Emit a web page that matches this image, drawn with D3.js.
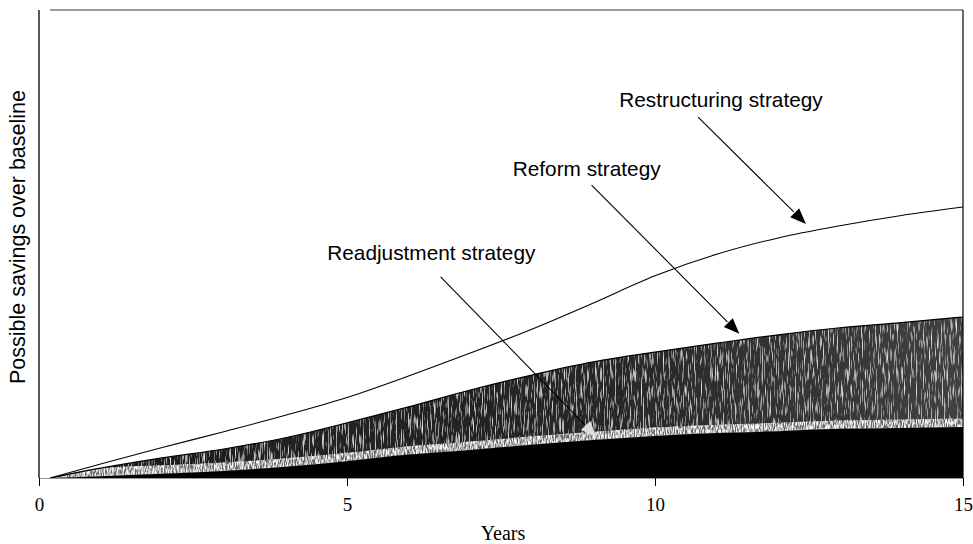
<!DOCTYPE html>
<meta charset="utf-8">
<style>
body { margin: 0; background: #fff; }
.sans { font-family: "Liberation Sans", Arial, sans-serif; }
.serif { font-family: "Liberation Serif", "Times New Roman", serif; }
</style>
<body>
<svg width="973" height="544"></svg>
</body>
<script src="https://cdnjs.cloudflare.com/ajax/libs/d3/7.8.5/d3.min.js"></script>
<script>

// values (savings, arbitrary units 0..100)
var years = [0.18, 1, 2, 3, 4, 5, 6, 7, 8, 9, 10, 11, 12, 13, 14, 15];
var restructuring = [0, 3.0, 6.5, 9.9, 13.4, 17.2, 21.8, 26.7, 31.8, 37.4, 43.2, 47.8, 51.3, 53.9, 56.1, 57.9];
var reform        = [0, 2.1, 4.3, 6.2, 8.6, 11.8, 15.2, 18.8, 22.0, 24.8, 26.9, 28.8, 30.6, 32.1, 33.2, 34.4];
var readjustment  = [0, 0.4, 0.9, 1.5, 2.4, 3.6, 5.0, 6.0, 7.1, 8.1, 9.0, 9.6, 10.0, 10.5, 10.7, 10.9];
var xTicks = [0, 5, 10, 15];

// labels with their leader arrows, in data units
var labels = [
  {text: "Restructuring strategy", at: [9.42, 79.3], from: [10.7, 77.1], to: [12.45, 54.3], head: "#000"},
  {text: "Reform strategy",        at: [7.69, 64.5], from: [8.97, 62.6], to: [11.37, 30.8], head: "#000"},
  {text: "Readjustment strategy",  at: [4.68, 46.6], from: [6.52, 43.0], to: [9.05, 8.8], head: "#ddd"}
];

var svg = d3.select("svg");
var x = d3.scaleLinear().domain([0, 15]).range([39, 963]);
var y = d3.scaleLinear().domain([0, 100]).range([478, 10]);

var rows = years.map(function(yr, i) {
  return {yr: yr, a: readjustment[i], b: reform[i], c: restructuring[i]};
});

var defs = svg.append("defs");

function grain(id, freq, k, b, seed) {
  var f = defs.append("filter").attr("id", id)
    .attr("x", 0).attr("y", 0).attr("width", 1).attr("height", 1);
  f.append("feTurbulence").attr("type", "fractalNoise")
    .attr("baseFrequency", freq).attr("numOctaves", 2).attr("seed", seed).attr("result", "n");
  f.append("feColorMatrix").attr("in", "n").attr("type", "matrix")
    .attr("values", "0 0 0 0 1  0 0 0 0 1  0 0 0 0 1  " + k + " 0 0 0 " + b).attr("result", "w");
  f.append("feComposite").attr("in", "w").attr("in2", "SourceGraphic").attr("operator", "in").attr("result", "wc");
  var fm = f.append("feMerge");
  fm.append("feMergeNode").attr("in", "SourceGraphic");
  fm.append("feMergeNode").attr("in", "wc");
}
grain("grain", "0.85 0.06", 2.6, -1.4, 4);
grain("grain2", "0.9 0.2", 3.0, -1.1, 9);

var g = defs.append("linearGradient").attr("id", "shade")
  .attr("gradientUnits", "userSpaceOnUse")
  .attr("x1", x(0)).attr("x2", x(15)).attr("y1", 0).attr("y2", 0);
g.append("stop").attr("offset", 0).attr("stop-color", "#1c1c1c");
g.append("stop").attr("offset", 0.6).attr("stop-color", "#262626");
g.append("stop").attr("offset", 1).attr("stop-color", "#404040");

var curve = d3.curveMonotoneX;
var xs = function(d){ return x(d.yr); };

// reform band (textured grey)
svg.append("path").datum(rows)
  .attr("d", d3.area().curve(curve).x(xs)
    .y0(function(d){ return y(d.a); }).y1(function(d){ return y(d.b); }))
  .attr("fill", "url(#shade)")
  .attr("filter", "url(#grain)");

// lighter speckled strip just above the black area
svg.append("path").datum(rows)
  .attr("d", d3.area().curve(curve).x(xs)
    .y0(function(d){ return y(d.a); }).y1(function(d){ return y(d.a + Math.min(1.8, d.b - d.a)); }))
  .attr("fill", "#666")
  .attr("filter", "url(#grain2)");

svg.append("path").datum(rows)
  .attr("d", d3.line().curve(curve).x(xs).y(function(d){ return y(d.b); }))
  .attr("fill", "none").attr("stroke", "#000").attr("stroke-width", 1.2);

// readjustment (solid black)
svg.append("path").datum(rows)
  .attr("d", d3.area().curve(curve).x(xs)
    .y0(y(0)).y1(function(d){ return y(d.a); }))
  .attr("fill", "#000");

// restructuring (line only)
svg.append("path").datum(rows)
  .attr("d", d3.line().curve(curve).x(xs).y(function(d){ return y(d.c); }))
  .attr("fill", "none").attr("stroke", "#000").attr("stroke-width", 1.1);

// frame
svg.append("line").attr("x1", x(0)).attr("x2", x(0)).attr("y1", y(100)).attr("y2", y(0))
  .attr("stroke", "#000").attr("stroke-width", 1.3);
svg.append("line").attr("x1", x(0.18)).attr("x2", x(15)).attr("y1", y(100)).attr("y2", y(100))
  .attr("stroke", "#333").attr("stroke-width", 1);
svg.append("line").attr("x1", x(15)).attr("x2", x(15)).attr("y1", y(100)).attr("y2", y(0))
  .attr("stroke", "#000").attr("stroke-width", 1.2);

// x axis
var xAxis = svg.append("g").attr("transform", "translate(0," + y(0) + ")")
  .call(d3.axisBottom(x).tickValues(xTicks).tickSize(8).tickPadding(12).tickFormat(d3.format("d")));
xAxis.select(".domain").attr("stroke", "#999");
xAxis.selectAll("text").attr("class", "serif").attr("font-size", 19).attr("fill", "#000");
xAxis.selectAll("line").attr("stroke", "#000");

svg.append("text").attr("class", "serif")
  .attr("x", 503).attr("y", 540).attr("text-anchor", "middle")
  .attr("font-size", 20).text("Years");

svg.append("text").attr("class", "sans")
  .attr("transform", "translate(25," + 237 + ") rotate(-90)")
  .attr("text-anchor", "middle").attr("font-size", 21.5)
  .text("Possible savings over baseline");

// labels and arrows
labels.forEach(function(l) {
  svg.append("text").attr("class", "sans")
    .attr("x", x(l.at[0])).attr("y", y(l.at[1]))
    .attr("font-size", 20.8).text(l.text);
  var x1 = x(l.from[0]), y1 = y(l.from[1]), x2 = x(l.to[0]), y2 = y(l.to[1]);
  var ang = Math.atan2(y2 - y1, x2 - x1), len = 17, half = 0.38;
  var bx = x2 - len * Math.cos(ang), by = y2 - len * Math.sin(ang);
  svg.append("line").attr("x1", x1).attr("y1", y1).attr("x2", bx).attr("y2", by)
    .attr("stroke", "#000").attr("stroke-width", 1.1);
  svg.append("path")
    .attr("d", "M" + x2 + "," + y2 +
      "L" + (x2 - len * Math.cos(ang - half)) + "," + (y2 - len * Math.sin(ang - half)) +
      "L" + (x2 - len * Math.cos(ang + half)) + "," + (y2 - len * Math.sin(ang + half)) + "Z")
    .attr("fill", l.head).attr("stroke", "none");
});

</script>
